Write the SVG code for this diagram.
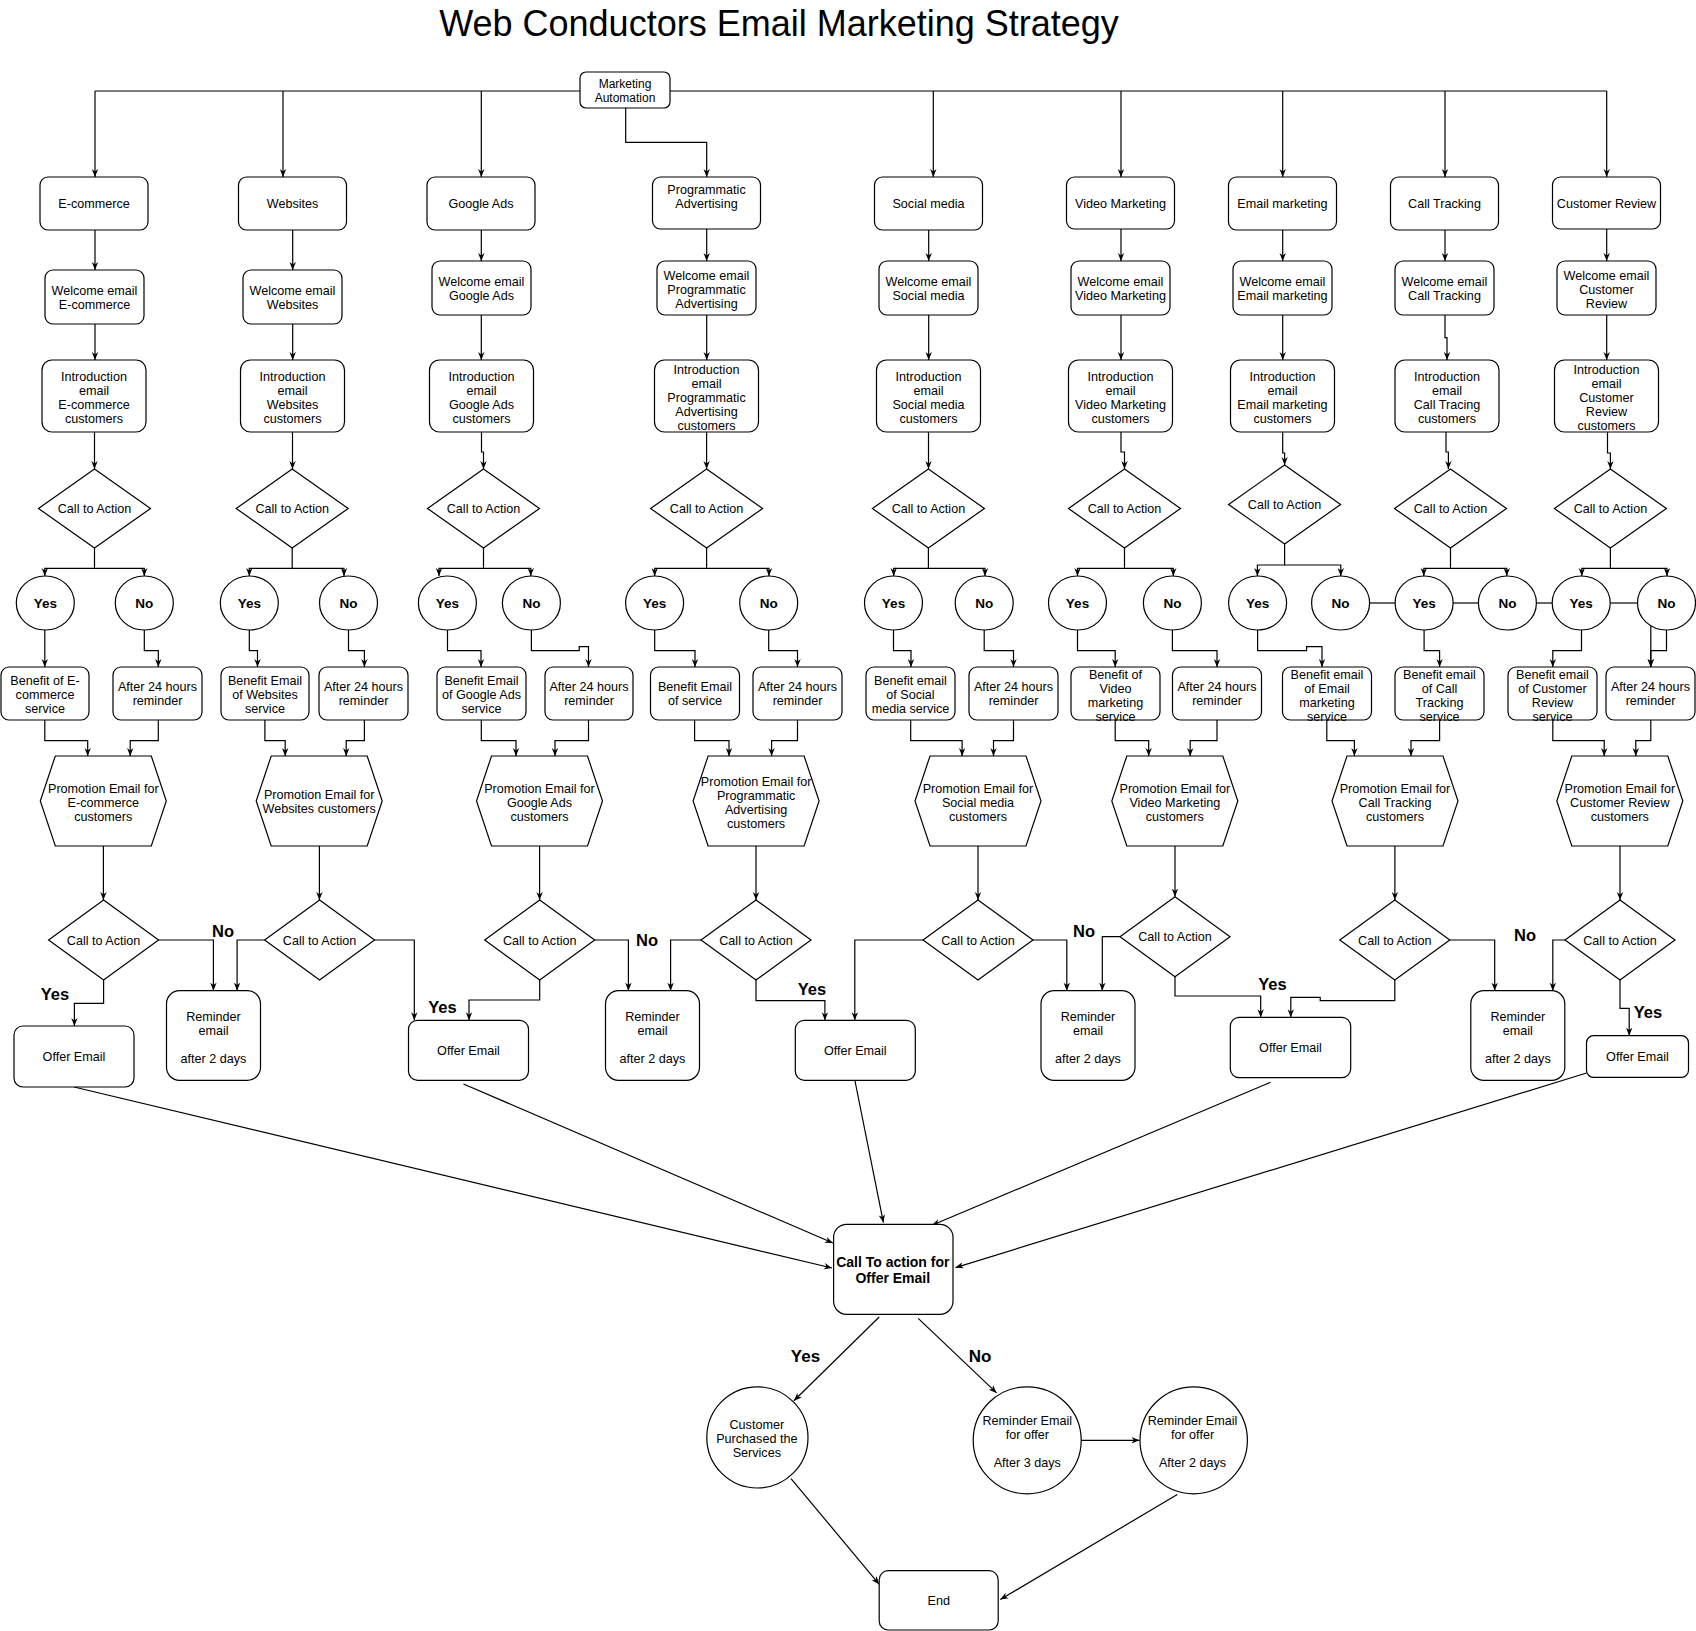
<svg xmlns="http://www.w3.org/2000/svg" width="1696" height="1631" viewBox="0 0 1696 1631">
<defs>
<marker id="a" viewBox="0 0 10 10" refX="10" refY="5" markerWidth="8" markerHeight="8" orient="auto" markerUnits="userSpaceOnUse"><path d="M0,1 L10,5 L0,9 L3,5 z" fill="#000"/></marker>
</defs>
<style>
.n{fill:#fff;stroke:#000;stroke-width:1.2}
.t{font-family:"Liberation Sans",Arial,sans-serif;font-size:12.6px;fill:#000;text-anchor:middle}
.yn{font-weight:bold;font-size:13.5px}
.lb{font-family:"Liberation Sans",Arial,sans-serif;font-weight:bold;font-size:16.5px;fill:#000;text-anchor:middle}
.c path{fill:none;stroke:#000;stroke-width:1.2}
.c .m{marker-end:url(#a)}
.thin{stroke-width:1}
</style>
<rect width="1696" height="1631" fill="#fff"/>
<text x="779" y="36" font-family="Liberation Sans, Arial, sans-serif" font-size="36" text-anchor="middle" fill="#000">Web Conductors Email Marketing Strategy</text>

<g id="connectors" class="c">
<!-- top distribution -->
<path d="M95,91 H1607"/>
<path class="m" d="M95,91 V177"/>
<path class="m" d="M283,91 V177"/>
<path class="m" d="M481.3,91 V177"/>
<path class="m" d="M625.7,108 V142.3 H706.7 V177"/>
<path class="m" d="M933.3,91 V177"/>
<path class="m" d="M1121,91 V177"/>
<path class="m" d="M1282.7,91 V177"/>
<path class="m" d="M1445,91 V177"/>
<path class="m" d="M1606.7,91 V177"/>
<!-- category to welcome -->
<path class="m" d="M95,230 V270"/>
<path class="m" d="M292.7,230 V270"/>
<path class="m" d="M481.3,230 V261"/>
<path class="m" d="M706.7,229 V261"/>
<path class="m" d="M928.7,230 V261"/>
<path class="m" d="M1121,229 V261"/>
<path class="m" d="M1282.7,230 V261"/>
<path class="m" d="M1445,230 V261"/>
<path class="m" d="M1606.7,229 V261"/>
<!-- welcome to intro -->
<path class="m" d="M95,324 V360"/>
<path class="m" d="M292.7,324 V360"/>
<path class="m" d="M481.3,315 V360"/>
<path class="m" d="M706.7,315 V360"/>
<path class="m" d="M928.7,315 V360"/>
<path class="m" d="M1121,315 V360"/>
<path class="m" d="M1282.7,315 V360"/>
<path class="m" d="M1445,315 V337.7 H1447 V360"/>
<path class="m" d="M1606.7,315 V360"/>
<!-- intro to diamond -->
<path class="m" d="M94.5,432 V469"/>
<path class="m" d="M292.5,432 V469"/>
<path class="m" d="M481.5,432 V452 H483.5 V469"/>
<path class="m" d="M706.6,432 V469"/>
<path class="m" d="M928.5,432 V469"/>
<path class="m" d="M1121,432 V452 H1124.5 V469"/>
<path class="m" d="M1282.7,432 V453 H1284.6 V465"/>
<path class="m" d="M1446,432 V452 H1448.4 V469"/>
<path class="m" d="M1607.5,432 V453 H1610.4 V469"/>
<!-- diamond splits -->
<path class="m" d="M94.5,548 V568.3 H44.8 V576"/>
<path class="m" d="M94.5,568.3 H144.3 V576"/>
<path class="m" d="M292.2,548 V568.3 H249.3 V576"/>
<path class="m" d="M292.2,568.3 H344 V576"/>
<path class="m" d="M483.5,548 V568.3 H439 V576"/>
<path class="m" d="M483.5,568.3 H530.8 V576"/>
<path class="m" d="M706.6,548 V568.3 H654.7 V576"/>
<path class="m" d="M706.6,568.3 H769 V576"/>
<path class="m" d="M928.4,548 V568.3 H893.7 V576"/>
<path class="m" d="M928.4,568.3 H985 V576"/>
<path class="m" d="M1124.5,548 V568.3 H1077.5 V576"/>
<path class="m" d="M1124.5,568.3 H1173.3 V576"/>
<path class="m" d="M1284.6,544 V565 H1257.4 V576"/>
<path class="m" d="M1284.6,565 H1340.8 V576"/>
<path class="m" d="M1450.5,548 V568.3 H1423.8 V576"/>
<path class="m" d="M1450.5,568.3 H1506.8 V576"/>
<path class="m" d="M1610.4,548 V568.3 H1581.8 V576"/>
<path class="m" d="M1610.4,568.3 H1667 V576"/>
<!-- circle links -->
<path d="M1369.6,603 H1395.1"/>
<path d="M1453.1,603 H1478.4"/>
<path d="M1536.4,603 H1552.2"/>
<path d="M1610.2,603 H1637.5"/>
<!-- circles to boxes -->
<path class="m" d="M44.8,630 V667"/>
<path class="m" d="M144.3,630 V650.7 H158.3 V667"/>
<path class="m" d="M249.3,630 V650.7 H257.5 V667"/>
<path class="m" d="M348.5,630 V650.7 H364.4 V667"/>
<path class="m" d="M447.5,630 V650.7 H481 V667"/>
<path class="m" d="M531.4,630 V650.7 H579.2 V646.7 H588.5 V667"/>
<path class="m" d="M654.7,630 V650.7 H695 V667"/>
<path class="m" d="M768.7,630 V650.7 H797.5 V667"/>
<path class="m" d="M893.5,630 V650.7 H911 V667"/>
<path class="m" d="M984.2,630 V650.7 H1013.5 V667"/>
<path class="m" d="M1077.5,630 V650.7 H1115.2 V667"/>
<path class="m" d="M1172.4,630 V650.7 H1217 V667"/>
<path class="m" d="M1257.6,630 V650.7 H1306.6 V646.7 H1322 V667"/>
<path class="m" d="M1424.1,630 V650.7 H1439.6 V667"/>
<path class="m" d="M1581.5,630 V650.7 H1552.8 V667"/>
<path class="m" d="M1666.5,630 V650.7 H1650.8 V667"/>
<path class="m" d="M1650.8,625.7 V667"/>
<!-- boxes to hexagons -->
<path class="m" d="M44.8,720 V740.7 H87.7 V756"/>
<path class="m" d="M158.3,720 V740.7 H130.2 V756"/>
<path class="m" d="M264.9,720 V740.7 H285.2 V756"/>
<path class="m" d="M364.4,720 V740.7 H346.2 V756"/>
<path class="m" d="M481.3,720 V740.7 H516 V756"/>
<path class="m" d="M588.5,720 V740.7 H555 V756"/>
<path class="m" d="M694.6,720 V740.7 H729 V756"/>
<path class="m" d="M797.5,720 V740.7 H771.6 V756"/>
<path class="m" d="M910.7,720 V740.7 H962.1 V756"/>
<path class="m" d="M1013.5,720 V740.7 H993.5 V756"/>
<path class="m" d="M1115.2,720 V740.7 H1148.7 V756"/>
<path class="m" d="M1217,720 V740.7 H1190.2 V756"/>
<path class="m" d="M1326.8,720 V740.7 H1354.4 V756"/>
<path class="m" d="M1439.6,720 V740.7 H1411 V756"/>
<path class="m" d="M1552.8,720 V740.7 H1604.2 V756"/>
<path class="m" d="M1650.8,720 V740.7 H1635.8 V756"/>
<!-- hexagon to diamond 2 -->
<path class="m" d="M103.4,846 V900"/>
<path class="m" d="M319.4,846 V900"/>
<path class="m" d="M539.6,846 V900"/>
<path class="m" d="M756,846 V900"/>
<path class="m" d="M978,846 V900"/>
<path class="m" d="M1175,846 V896.7"/>
<path class="m" d="M1394.9,846 V900"/>
<path class="m" d="M1620,846 V900"/>
<!-- diamond 2 branches -->
<path class="m" d="M158.6,940 H213.4 V990.7"/>
<path class="m" d="M103.6,980 V1003.3 H74.4 V1026"/>
<path class="m" d="M264.6,940 H237.1 V990.7"/>
<path class="m" d="M374.6,940 H414.3 V1020.3"/>
<path class="m" d="M539.7,980 V1000 H469 V1020.3"/>
<path class="m" d="M594.7,940 H628.4 V990.7"/>
<path class="m" d="M701,940 H670.6 V990.7"/>
<path class="m" d="M756,980 V1000.7 H824.9 V1020.3"/>
<path class="m" d="M923,940 H854.8 V1020.3"/>
<path class="m" d="M1033,940 H1066.8 V990.7"/>
<path class="m" d="M1120,936.7 H1102.3 V990.7"/>
<path class="m" d="M1175,976.7 V996 H1260.7 V1017.3"/>
<path class="m" d="M1394.8,980 V1000.7 H1320.2 V997.3 H1290.8 V1017.3"/>
<path class="m" d="M1449.8,940 H1494.7 V990.7"/>
<path class="m" d="M1565,940 H1552.8 V990.7"/>
<path class="m" d="M1620,980 V1008.3 H1629.2 V1035.7"/>
<!-- converging -->
<path class="m thin" d="M74,1087 L832,1268"/>
<path class="m thin" d="M463.5,1084 L833,1243"/>
<path class="m thin" d="M855,1081 L883.4,1222.6"/>
<path class="m thin" d="M1270.6,1082.3 L931.9,1225.3"/>
<path class="m thin" d="M1586.5,1073 L955.5,1267.6"/>
<!-- bottom -->
<path class="m thin" d="M879.2,1317 L793.9,1400.7"/>
<path class="m thin" d="M918.2,1318.4 L996.6,1392.9"/>
<path class="m thin" d="M1081.1,1440.3 H1139.5"/>
<path class="m thin" d="M1177.3,1494.5 L1000.3,1599.5"/>
<path class="m thin" d="M791,1478.6 L879.2,1584.3"/>
</g>

<g id="labels">
<text class="lb" x="223" y="936.6">No</text>
<text class="lb" x="55" y="999.9">Yes</text>
<text class="lb" x="442.5" y="1012.6">Yes</text>
<text class="lb" x="647" y="945.9">No</text>
<text class="lb" x="812" y="994.9">Yes</text>
<text class="lb" x="1084" y="936.6">No</text>
<text class="lb" x="1272.5" y="989.9">Yes</text>
<text class="lb" x="1525" y="941.2">No</text>
<text class="lb" x="1648" y="1017.9">Yes</text>
<text class="lb" x="805.5" y="1361.8" style="font-size:17px">Yes</text>
<text class="lb" x="980" y="1361.8" style="font-size:17px">No</text>
</g>

<g id="marketing-automation"><rect class="n" x="580" y="72" width="90" height="36" rx="6"/><text class="t" style="font-size:12px"><tspan x="625" y="88">Marketing</tspan><tspan x="625" y="101.6">Automation</tspan></text></g>

<!-- categories -->
<g id="cat-ecommerce"><rect class="n" x="40" y="177" width="108" height="53" rx="8"/><text class="t" x="94" y="208.2">E-commerce</text></g>
<g id="cat-websites"><rect class="n" x="238.5" y="177" width="108" height="53" rx="8"/><text class="t" x="292.5" y="208.2">Websites</text></g>
<g id="cat-googleads"><rect class="n" x="427" y="177" width="108" height="53" rx="8"/><text class="t" x="481" y="208.2">Google Ads</text></g>
<g id="cat-programmatic"><rect class="n" x="652.5" y="177" width="108" height="52" rx="8"/><text class="t"><tspan x="706.5" y="194.2">Programmatic</tspan><tspan x="706.5" y="208.2">Advertising</tspan></text></g>
<g id="cat-social"><rect class="n" x="874.5" y="177" width="108" height="53" rx="8"/><text class="t" x="928.5" y="208.2">Social media</text></g>
<g id="cat-video"><rect class="n" x="1066.5" y="177" width="108" height="52" rx="8"/><text class="t" x="1120.5" y="208.2">Video Marketing</text></g>
<g id="cat-email"><rect class="n" x="1228.5" y="177" width="108" height="53" rx="8"/><text class="t" x="1282.5" y="208.2">Email marketing</text></g>
<g id="cat-calltracking"><rect class="n" x="1390.5" y="177" width="108" height="53" rx="8"/><text class="t" x="1444.5" y="208.2">Call Tracking</text></g>
<g id="cat-review"><rect class="n" x="1552.5" y="177" width="108" height="52" rx="8"/><text class="t" x="1606.5" y="208.2">Customer Review</text></g>

<!-- welcome -->
<g id="wel-ecommerce"><rect class="n" x="45" y="270" width="99" height="54" rx="8"/><text class="t"><tspan x="94.5" y="295.2">Welcome email</tspan><tspan x="94.5" y="309.2">E-commerce</tspan></text></g>
<g id="wel-websites"><rect class="n" x="243" y="270" width="99" height="54" rx="8"/><text class="t"><tspan x="292.5" y="295.2">Welcome email</tspan><tspan x="292.5" y="309.2">Websites</tspan></text></g>
<g id="wel-googleads"><rect class="n" x="432" y="261" width="99" height="54" rx="8"/><text class="t"><tspan x="481.5" y="286.2">Welcome email</tspan><tspan x="481.5" y="300.2">Google Ads</tspan></text></g>
<g id="wel-programmatic"><rect class="n" x="657" y="261" width="99" height="54" rx="8"/><text class="t"><tspan x="706.5" y="280.2">Welcome email</tspan><tspan x="706.5" y="294.2">Programmatic</tspan><tspan x="706.5" y="308.2">Advertising</tspan></text></g>
<g id="wel-social"><rect class="n" x="879" y="261" width="99" height="54" rx="8"/><text class="t"><tspan x="928.5" y="286.2">Welcome email</tspan><tspan x="928.5" y="300.2">Social media</tspan></text></g>
<g id="wel-video"><rect class="n" x="1071" y="261" width="99" height="54" rx="8"/><text class="t"><tspan x="1120.5" y="286.2">Welcome email</tspan><tspan x="1120.5" y="300.2">Video Marketing</tspan></text></g>
<g id="wel-email"><rect class="n" x="1233" y="261" width="99" height="54" rx="8"/><text class="t"><tspan x="1282.5" y="286.2">Welcome email</tspan><tspan x="1282.5" y="300.2">Email marketing</tspan></text></g>
<g id="wel-calltracking"><rect class="n" x="1395" y="261" width="99" height="54" rx="8"/><text class="t"><tspan x="1444.5" y="286.2">Welcome email</tspan><tspan x="1444.5" y="300.2">Call Tracking</tspan></text></g>
<g id="wel-review"><rect class="n" x="1557" y="261" width="99" height="54" rx="8"/><text class="t"><tspan x="1606.5" y="280.2">Welcome email</tspan><tspan x="1606.5" y="294.2">Customer</tspan><tspan x="1606.5" y="308.2">Review</tspan></text></g>

<!-- intro -->
<g id="int-ecommerce"><rect class="n" x="42" y="360" width="104" height="72" rx="10"/><text class="t"><tspan x="94" y="381.2">Introduction</tspan><tspan x="94" y="395.2">email</tspan><tspan x="94" y="409.2">E-commerce</tspan><tspan x="94" y="423.2">customers</tspan></text></g>
<g id="int-websites"><rect class="n" x="240.5" y="360" width="104" height="72" rx="10"/><text class="t"><tspan x="292.5" y="381.2">Introduction</tspan><tspan x="292.5" y="395.2">email</tspan><tspan x="292.5" y="409.2">Websites</tspan><tspan x="292.5" y="423.2">customers</tspan></text></g>
<g id="int-googleads"><rect class="n" x="429.5" y="360" width="104" height="72" rx="10"/><text class="t"><tspan x="481.5" y="381.2">Introduction</tspan><tspan x="481.5" y="395.2">email</tspan><tspan x="481.5" y="409.2">Google Ads</tspan><tspan x="481.5" y="423.2">customers</tspan></text></g>
<g id="int-programmatic"><rect class="n" x="654.5" y="360" width="104" height="72" rx="10"/><text class="t"><tspan x="706.5" y="374.2">Introduction</tspan><tspan x="706.5" y="388.2">email</tspan><tspan x="706.5" y="402.2">Programmatic</tspan><tspan x="706.5" y="416.2">Advertising</tspan><tspan x="706.5" y="430.2">customers</tspan></text></g>
<g id="int-social"><rect class="n" x="876.5" y="360" width="104" height="72" rx="10"/><text class="t"><tspan x="928.5" y="381.2">Introduction</tspan><tspan x="928.5" y="395.2">email</tspan><tspan x="928.5" y="409.2">Social media</tspan><tspan x="928.5" y="423.2">customers</tspan></text></g>
<g id="int-video"><rect class="n" x="1068.5" y="360" width="104" height="72" rx="10"/><text class="t"><tspan x="1120.5" y="381.2">Introduction</tspan><tspan x="1120.5" y="395.2">email</tspan><tspan x="1120.5" y="409.2">Video Marketing</tspan><tspan x="1120.5" y="423.2">customers</tspan></text></g>
<g id="int-email"><rect class="n" x="1230.5" y="360" width="104" height="72" rx="10"/><text class="t"><tspan x="1282.5" y="381.2">Introduction</tspan><tspan x="1282.5" y="395.2">email</tspan><tspan x="1282.5" y="409.2">Email marketing</tspan><tspan x="1282.5" y="423.2">customers</tspan></text></g>
<g id="int-calltracking"><rect class="n" x="1395" y="360" width="104" height="72" rx="10"/><text class="t"><tspan x="1447" y="381.2">Introduction</tspan><tspan x="1447" y="395.2">email</tspan><tspan x="1447" y="409.2">Call Tracing</tspan><tspan x="1447" y="423.2">customers</tspan></text></g>
<g id="int-review"><rect class="n" x="1554.5" y="360" width="104" height="72" rx="10"/><text class="t"><tspan x="1606.5" y="374.2">Introduction</tspan><tspan x="1606.5" y="388.2">email</tspan><tspan x="1606.5" y="402.2">Customer</tspan><tspan x="1606.5" y="416.2">Review</tspan><tspan x="1606.5" y="430.2">customers</tspan></text></g>

<!-- diamonds row 1 -->
<g id="cta1-ecommerce"><polygon class="n" points="94.5,469 150.5,508.5 94.5,548 38.5,508.5"/><text class="t" x="94.5" y="512.8">Call to Action</text></g>
<g id="cta1-websites"><polygon class="n" points="292.2,469 348.2,508.5 292.2,548 236.2,508.5"/><text class="t" x="292.2" y="512.8">Call to Action</text></g>
<g id="cta1-googleads"><polygon class="n" points="483.5,469 539.5,508.5 483.5,548 427.5,508.5"/><text class="t" x="483.5" y="512.8">Call to Action</text></g>
<g id="cta1-programmatic"><polygon class="n" points="706.6,469 762.6,508.5 706.6,548 650.6,508.5"/><text class="t" x="706.6" y="512.8">Call to Action</text></g>
<g id="cta1-social"><polygon class="n" points="928.4,469 984.4,508.5 928.4,548 872.4,508.5"/><text class="t" x="928.4" y="512.8">Call to Action</text></g>
<g id="cta1-video"><polygon class="n" points="1124.5,469 1180.5,508.5 1124.5,548 1068.5,508.5"/><text class="t" x="1124.5" y="512.8">Call to Action</text></g>
<g id="cta1-email"><polygon class="n" points="1284.6,465 1340.6,504.5 1284.6,544 1228.6,504.5"/><text class="t" x="1284.6" y="508.8">Call to Action</text></g>
<g id="cta1-calltracking"><polygon class="n" points="1450.5,469 1506.5,508.5 1450.5,548 1394.5,508.5"/><text class="t" x="1450.5" y="512.8">Call to Action</text></g>
<g id="cta1-review"><polygon class="n" points="1610.4,469 1666.4,508.5 1610.4,548 1554.4,508.5"/><text class="t" x="1610.4" y="512.8">Call to Action</text></g>

<!-- yes/no circles -->
<g id="yes-ecommerce"><ellipse class="n" cx="45.3" cy="603" rx="29" ry="27"/><text class="t yn" x="45.3" y="607.8">Yes</text></g>
<g id="no-ecommerce"><ellipse class="n" cx="144.3" cy="603" rx="29" ry="27"/><text class="t yn" x="144.3" y="607.8">No</text></g>
<g id="yes-websites"><ellipse class="n" cx="249.3" cy="603" rx="29" ry="27"/><text class="t yn" x="249.3" y="607.8">Yes</text></g>
<g id="no-websites"><ellipse class="n" cx="348.5" cy="603" rx="29" ry="27"/><text class="t yn" x="348.5" y="607.8">No</text></g>
<g id="yes-googleads"><ellipse class="n" cx="447.4" cy="603" rx="29" ry="27"/><text class="t yn" x="447.4" y="607.8">Yes</text></g>
<g id="no-googleads"><ellipse class="n" cx="531.4" cy="603" rx="29" ry="27"/><text class="t yn" x="531.4" y="607.8">No</text></g>
<g id="yes-programmatic"><ellipse class="n" cx="654.6" cy="603" rx="29" ry="27"/><text class="t yn" x="654.6" y="607.8">Yes</text></g>
<g id="no-programmatic"><ellipse class="n" cx="768.7" cy="603" rx="29" ry="27"/><text class="t yn" x="768.7" y="607.8">No</text></g>
<g id="yes-social"><ellipse class="n" cx="893.5" cy="603" rx="29" ry="27"/><text class="t yn" x="893.5" y="607.8">Yes</text></g>
<g id="no-social"><ellipse class="n" cx="984.2" cy="603" rx="29" ry="27"/><text class="t yn" x="984.2" y="607.8">No</text></g>
<g id="yes-video"><ellipse class="n" cx="1077.5" cy="603" rx="29" ry="27"/><text class="t yn" x="1077.5" y="607.8">Yes</text></g>
<g id="no-video"><ellipse class="n" cx="1172.4" cy="603" rx="29" ry="27"/><text class="t yn" x="1172.4" y="607.8">No</text></g>
<g id="yes-email"><ellipse class="n" cx="1257.6" cy="603" rx="29" ry="27"/><text class="t yn" x="1257.6" y="607.8">Yes</text></g>
<g id="no-email"><ellipse class="n" cx="1340.6" cy="603" rx="29" ry="27"/><text class="t yn" x="1340.6" y="607.8">No</text></g>
<g id="yes-calltracking"><ellipse class="n" cx="1424.1" cy="603" rx="29" ry="27"/><text class="t yn" x="1424.1" y="607.8">Yes</text></g>
<g id="no-calltracking"><ellipse class="n" cx="1507.4" cy="603" rx="29" ry="27"/><text class="t yn" x="1507.4" y="607.8">No</text></g>
<g id="yes-review"><ellipse class="n" cx="1581.2" cy="603" rx="29" ry="27"/><text class="t yn" x="1581.2" y="607.8">Yes</text></g>
<g id="no-review"><ellipse class="n" cx="1666.5" cy="603" rx="29" ry="27"/><text class="t yn" x="1666.5" y="607.8">No</text></g>

<!-- benefit / after boxes -->
<g id="ben-ecommerce"><rect class="n" x="1" y="667" width="88" height="53" rx="8"/><text class="t"><tspan x="45" y="684.8">Benefit of E-</tspan><tspan x="45" y="698.8">commerce</tspan><tspan x="45" y="712.8">service</tspan></text></g>
<g id="aft-ecommerce"><rect class="n" x="113" y="667" width="89" height="53" rx="8"/><text class="t"><tspan x="157.5" y="691.2">After 24 hours</tspan><tspan x="157.5" y="705.2">reminder</tspan></text></g>
<g id="ben-websites"><rect class="n" x="221" y="667" width="88" height="53" rx="8"/><text class="t"><tspan x="265" y="684.8">Benefit Email</tspan><tspan x="265" y="698.8">of Websites</tspan><tspan x="265" y="712.8">service</tspan></text></g>
<g id="aft-websites"><rect class="n" x="319" y="667" width="89" height="53" rx="8"/><text class="t"><tspan x="363.5" y="691.2">After 24 hours</tspan><tspan x="363.5" y="705.2">reminder</tspan></text></g>
<g id="ben-googleads"><rect class="n" x="437" y="667" width="89" height="53" rx="8"/><text class="t"><tspan x="481.5" y="684.8">Benefit Email</tspan><tspan x="481.5" y="698.8">of Google Ads</tspan><tspan x="481.5" y="712.8">service</tspan></text></g>
<g id="aft-googleads"><rect class="n" x="545" y="667" width="88" height="53" rx="8"/><text class="t"><tspan x="589" y="691.2">After 24 hours</tspan><tspan x="589" y="705.2">reminder</tspan></text></g>
<g id="ben-programmatic"><rect class="n" x="650.5" y="667" width="89" height="53" rx="8"/><text class="t"><tspan x="695" y="691.2">Benefit Email</tspan><tspan x="695" y="705.2">of service</tspan></text></g>
<g id="aft-programmatic"><rect class="n" x="753" y="667" width="89" height="53" rx="8"/><text class="t"><tspan x="797.5" y="691.2">After 24 hours</tspan><tspan x="797.5" y="705.2">reminder</tspan></text></g>
<g id="ben-social"><rect class="n" x="866" y="667" width="89" height="53" rx="8"/><text class="t"><tspan x="910.5" y="684.8">Benefit email</tspan><tspan x="910.5" y="698.8">of Social</tspan><tspan x="910.5" y="712.8">media service</tspan></text></g>
<g id="aft-social"><rect class="n" x="969" y="667" width="89" height="53" rx="8"/><text class="t"><tspan x="1013.5" y="691.2">After 24 hours</tspan><tspan x="1013.5" y="705.2">reminder</tspan></text></g>
<g id="ben-video"><rect class="n" x="1071" y="667" width="89" height="53" rx="8"/><text class="t"><tspan x="1115.5" y="678.5">Benefit of</tspan><tspan x="1115.5" y="692.5">Video</tspan><tspan x="1115.5" y="706.5">marketing</tspan><tspan x="1115.5" y="720.5">service</tspan></text></g>
<g id="aft-video"><rect class="n" x="1172.5" y="667" width="89" height="53" rx="8"/><text class="t"><tspan x="1217" y="691.2">After 24 hours</tspan><tspan x="1217" y="705.2">reminder</tspan></text></g>
<g id="ben-email"><rect class="n" x="1282.5" y="667" width="89" height="53" rx="8"/><text class="t"><tspan x="1327" y="678.5">Benefit email</tspan><tspan x="1327" y="692.5">of Email</tspan><tspan x="1327" y="706.5">marketing</tspan><tspan x="1327" y="720.5">service</tspan></text></g>
<g id="ben-calltracking"><rect class="n" x="1395" y="667" width="89" height="53" rx="8"/><text class="t"><tspan x="1439.5" y="678.5">Benefit email</tspan><tspan x="1439.5" y="692.5">of Call</tspan><tspan x="1439.5" y="706.5">Tracking</tspan><tspan x="1439.5" y="720.5">service</tspan></text></g>
<g id="ben-review"><rect class="n" x="1508" y="667" width="89" height="53" rx="8"/><text class="t"><tspan x="1552.5" y="678.5">Benefit email</tspan><tspan x="1552.5" y="692.5">of Customer</tspan><tspan x="1552.5" y="706.5">Review</tspan><tspan x="1552.5" y="720.5">service</tspan></text></g>
<g id="aft-review"><rect class="n" x="1606" y="667" width="89" height="53" rx="8"/><text class="t"><tspan x="1650.5" y="691.2">After 24 hours</tspan><tspan x="1650.5" y="705.2">reminder</tspan></text></g>

<!-- hexagons -->
<g id="promo-ecommerce"><polygon class="n" points="55.3,756 151.3,756 166.3,801 151.3,846 55.3,846 40.3,801"/><text class="t"><tspan x="103.3" y="792.8">Promotion Email for</tspan><tspan x="103.3" y="806.8">E-commerce</tspan><tspan x="103.3" y="820.8">customers</tspan></text></g>
<g id="promo-websites"><polygon class="n" points="271.2,756 367.2,756 382.2,801 367.2,846 271.2,846 256.2,801"/><text class="t"><tspan x="319.2" y="798.8">Promotion Email for</tspan><tspan x="319.2" y="812.8">Websites customers</tspan></text></g>
<g id="promo-googleads"><polygon class="n" points="491.5,756 587.5,756 602.5,801 587.5,846 491.5,846 476.5,801"/><text class="t"><tspan x="539.5" y="792.8">Promotion Email for</tspan><tspan x="539.5" y="806.8">Google Ads</tspan><tspan x="539.5" y="820.8">customers</tspan></text></g>
<g id="promo-programmatic"><polygon class="n" points="708.1,756 804.1,756 819.1,801 804.1,846 708.1,846 693.1,801"/><text class="t"><tspan x="756.1" y="786.2">Promotion Email for</tspan><tspan x="756.1" y="800.2">Programmatic</tspan><tspan x="756.1" y="814.2">Advertising</tspan><tspan x="756.1" y="828.2">customers</tspan></text></g>
<g id="promo-social"><polygon class="n" points="930,756 1026,756 1041,801 1026,846 930,846 915,801"/><text class="t"><tspan x="978" y="792.8">Promotion Email for</tspan><tspan x="978" y="806.8">Social media</tspan><tspan x="978" y="820.8">customers</tspan></text></g>
<g id="promo-video"><polygon class="n" points="1126.8,756 1222.8,756 1237.8,801 1222.8,846 1126.8,846 1111.8,801"/><text class="t"><tspan x="1174.8" y="792.8">Promotion Email for</tspan><tspan x="1174.8" y="806.8">Video Marketing</tspan><tspan x="1174.8" y="820.8">customers</tspan></text></g>
<g id="promo-calltracking"><polygon class="n" points="1347,756 1443,756 1458,801 1443,846 1347,846 1332,801"/><text class="t"><tspan x="1395" y="792.8">Promotion Email for</tspan><tspan x="1395" y="806.8">Call Tracking</tspan><tspan x="1395" y="820.8">customers</tspan></text></g>
<g id="promo-review"><polygon class="n" points="1571.8,756 1667.8,756 1682.8,801 1667.8,846 1571.8,846 1556.8,801"/><text class="t"><tspan x="1619.8" y="792.8">Promotion Email for</tspan><tspan x="1619.8" y="806.8">Customer Review</tspan><tspan x="1619.8" y="820.8">customers</tspan></text></g>

<!-- diamonds row 2 -->
<g id="cta2-ecommerce"><polygon class="n" points="103.6,900 158.6,940 103.6,980 48.6,940"/><text class="t" x="103.6" y="944.8">Call to Action</text></g>
<g id="cta2-websites"><polygon class="n" points="319.6,900 374.6,940 319.6,980 264.6,940"/><text class="t" x="319.6" y="944.8">Call to Action</text></g>
<g id="cta2-googleads"><polygon class="n" points="539.7,900 594.7,940 539.7,980 484.7,940"/><text class="t" x="539.7" y="944.8">Call to Action</text></g>
<g id="cta2-programmatic"><polygon class="n" points="756,900 811,940 756,980 701,940"/><text class="t" x="756" y="944.8">Call to Action</text></g>
<g id="cta2-social"><polygon class="n" points="978,900 1033,940 978,980 923,940"/><text class="t" x="978" y="944.8">Call to Action</text></g>
<g id="cta2-video"><polygon class="n" points="1175,896.7 1230,936.7 1175,976.7 1120,936.7"/><text class="t" x="1175" y="941.2">Call to Action</text></g>
<g id="cta2-calltracking"><polygon class="n" points="1394.8,900 1449.8,940 1394.8,980 1339.8,940"/><text class="t" x="1394.8" y="944.8">Call to Action</text></g>
<g id="cta2-review"><polygon class="n" points="1620,900 1675,940 1620,980 1565,940"/><text class="t" x="1620" y="944.8">Call to Action</text></g>

<!-- offers and reminders -->
<g id="offer-1"><rect class="n" x="14" y="1026" width="120" height="61" rx="9"/><text class="t" x="74" y="1061">Offer Email</text></g>
<g id="rem-1"><rect class="n" x="166.5" y="990.7" width="94" height="89.6" rx="13"/><text class="t"><tspan x="213.5" y="1020.5">Reminder</tspan><tspan x="213.5" y="1034.5">email</tspan><tspan x="213.5" y="1062.5">after 2 days</tspan></text></g>
<g id="offer-2"><rect class="n" x="408.5" y="1020.3" width="120" height="60" rx="9"/><text class="t" x="468.5" y="1054.8">Offer Email</text></g>
<g id="rem-2"><rect class="n" x="605.5" y="990.7" width="94" height="89.6" rx="13"/><text class="t"><tspan x="652.5" y="1020.5">Reminder</tspan><tspan x="652.5" y="1034.5">email</tspan><tspan x="652.5" y="1062.5">after 2 days</tspan></text></g>
<g id="offer-3"><rect class="n" x="795.3" y="1020.3" width="120" height="60" rx="9"/><text class="t" x="855.3" y="1054.8">Offer Email</text></g>
<g id="rem-3"><rect class="n" x="1041" y="990.7" width="94" height="89.6" rx="13"/><text class="t"><tspan x="1088" y="1020.5">Reminder</tspan><tspan x="1088" y="1034.5">email</tspan><tspan x="1088" y="1062.5">after 2 days</tspan></text></g>
<g id="offer-4"><rect class="n" x="1230.3" y="1017.3" width="120.4" height="60.4" rx="9"/><text class="t" x="1290.5" y="1052">Offer Email</text></g>
<g id="rem-4"><rect class="n" x="1470.8" y="990.7" width="94" height="89.6" rx="13"/><text class="t"><tspan x="1517.8" y="1020.5">Reminder</tspan><tspan x="1517.8" y="1034.5">email</tspan><tspan x="1517.8" y="1062.5">after 2 days</tspan></text></g>
<g id="offer-5"><rect class="n" x="1586.5" y="1035.7" width="102" height="41.6" rx="7"/><text class="t" x="1637.5" y="1061">Offer Email</text></g>

<!-- bottom flow -->
<g id="cta-offer"><rect class="n" x="833.6" y="1224.3" width="119.4" height="90" rx="13"/><text class="t" style="font-weight:bold;font-size:14px"><tspan x="892.8" y="1267.2">Call To action for</tspan><tspan x="892.8" y="1282.8">Offer Email</tspan></text></g>
<g id="purchased"><ellipse class="n" cx="757.4" cy="1437.4" rx="50.6" ry="50.6"/><text class="t"><tspan x="756.8" y="1429.3">Customer</tspan><tspan x="756.8" y="1443.1">Purchased the</tspan><tspan x="756.8" y="1457">Services</tspan></text></g>
<g id="reminder-3days"><ellipse class="n" cx="1027.2" cy="1440.3" rx="54" ry="53.5"/><text class="t"><tspan x="1027.3" y="1424.9">Reminder Email</tspan><tspan x="1027.3" y="1439.1">for offer</tspan><tspan x="1027.3" y="1467.2">After 3 days</tspan></text></g>
<g id="reminder-2days"><ellipse class="n" cx="1193.7" cy="1440.3" rx="53.7" ry="53.5"/><text class="t"><tspan x="1192.5" y="1424.9">Reminder Email</tspan><tspan x="1192.5" y="1439.1">for offer</tspan><tspan x="1192.5" y="1467.2">After 2 days</tspan></text></g>
<g id="end"><rect class="n" x="879.2" y="1570.7" width="119" height="59.3" rx="9"/><text class="t" x="938.7" y="1605">End</text></g>
</svg>
